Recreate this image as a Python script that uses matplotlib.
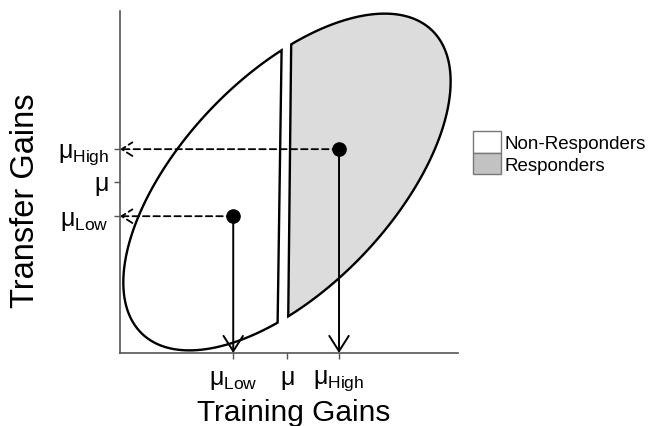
import numpy as np
import matplotlib
matplotlib.use("Agg")
import matplotlib.pyplot as plt
from matplotlib.patches import Polygon, Patch

plt.rcParams['font.family'] = ['Liberation Sans', 'DejaVu Sans']
plt.rcParams['mathtext.fontset'] = 'custom'
plt.rcParams['mathtext.rm'] = 'Liberation Sans'
plt.rcParams['mathtext.it'] = 'Liberation Sans'

# tick positions (arbitrary gain units)
x_ticks = [3.35, 4.94, 6.48]
y_ticks = [4.0, 5.0, 5.96]
x_labels = [r'$\mu_{\mathrm{Low}}$', r'$\mu$', r'$\mu_{\mathrm{High}}$']
y_labels = [r'$\mu_{\mathrm{Low}}$', r'$\mu$', r'$\mu_{\mathrm{High}}$']

# group means: (training gain, transfer gain)
group_x = [3.35, 6.48]
group_y = [4.0, 5.96]

# joint distribution ellipse: centre, semi-axes, tilt
centre = (4.94, 5.0)
semi_axes = (6.17, 3.10)
tilt_deg = 45.8

# the cut between the two groups, one edge per piece (bottom point, top point)
cut_left = [(4.67, 0.91), (4.79, 8.80)]
cut_right = [(4.97, 1.05), (5.06, 9.01)]

legend_labels = ['Non-Responders', 'Responders']
legend_fill = ['white', '#c2c2c2']
piece_fill = ['white', '#dcdcdc']


def ellipse_points(centre, semi_axes, tilt_deg, n=3000):
    t = np.linspace(0, 2 * np.pi, n, endpoint=False)
    phi = np.deg2rad(tilt_deg)
    a, b = semi_axes
    ex = centre[0] + a * np.cos(t) * np.cos(phi) - b * np.sin(t) * np.sin(phi)
    ey = centre[1] + a * np.cos(t) * np.sin(phi) + b * np.sin(t) * np.cos(phi)
    return ex, ey


def cut_piece(ex, ey, cut, side):
    """ellipse outline on one side of a straight cut, as a closed polygon"""
    (x0, y0), (x1, y1) = cut
    lx = x0 + (x1 - x0) * (ey - y0) / (y1 - y0)
    keep = ex < lx if side == 'left' else ex > lx
    start = np.argmax(keep & ~np.roll(keep, 1))
    ex, ey, keep = np.roll(ex, -start), np.roll(ey, -start), np.roll(keep, -start)
    return np.column_stack([ex[keep], ey[keep]])


fig = plt.figure(figsize=(6.6, 4.27), dpi=100)
ax = fig.add_axes([120 / 660, 1 - 354 / 427, 338 / 660, 342 / 427])
ax.set_xlim(0, 10)
ax.set_ylim(0, 10)

ex, ey = ellipse_points(centre, semi_axes, tilt_deg)
for cut, side, fc in zip([cut_left, cut_right], ['left', 'right'], piece_fill):
    pts = cut_piece(ex, ey, cut, side)
    ax.add_patch(Polygon(pts, closed=True, facecolor=fc, edgecolor='black',
                         lw=1.7, joinstyle='miter', clip_on=False, zorder=2))

# solid arrows down to the training axis
for gx, gy in zip(group_x, group_y):
    ax.annotate('', xy=(gx, 0), xytext=(gx, gy),
                arrowprops=dict(arrowstyle='->,head_length=0.55,head_width=0.35',
                                mutation_scale=20, lw=1.4, color='black',
                                shrinkA=0, shrinkB=0), zorder=3)
    # dashed arrows across to the transfer axis
    ax.annotate('', xy=(0, gy), xytext=(gx, gy),
                arrowprops=dict(arrowstyle='->,head_length=0.55,head_width=0.35',
                                mutation_scale=14, lw=1.3, color='black',
                                linestyle=(0, (3.6, 2.2)),
                                shrinkA=0, shrinkB=0), zorder=3)

ax.plot(group_x, group_y, 'o', ms=9.5, color='black', zorder=4, clip_on=False)

for s in ['top', 'right']:
    ax.spines[s].set_visible(False)
for s in ['left', 'bottom']:
    ax.spines[s].set_color('#555555')
    ax.spines[s].set_linewidth(1.2)

ax.set_xticks(x_ticks, x_labels, fontsize=18)
ax.set_yticks(y_ticks, y_labels, fontsize=18)
ax.tick_params(axis='x', length=4, width=1, color='#555555', pad=6)
ax.tick_params(axis='y', length=4, width=1, color='#555555', pad=4)

ax.set_xlabel('Training Gains', fontsize=21.5, va='baseline')
ax.xaxis.set_label_coords((294 - 120) / 338, (354 - 421) / 342)
ax.set_ylabel('Transfer Gains', fontsize=23.5, va='baseline')
ax.yaxis.set_label_coords((34 - 120) / 338, (354 - 201) / 342)

handles = [Patch(facecolor=fc, edgecolor='#777777', lw=1) for fc in legend_fill]
fig.legend(handles, legend_labels, loc='upper left',
           bbox_to_anchor=(473 / 660, 1 - 132 / 427), frameon=False,
           fontsize=13.5, handlelength=1.5, handleheight=1.4,
           labelspacing=0, handletextpad=0.2, borderpad=0, borderaxespad=0)

fig.savefig('out.png', dpi=100)
